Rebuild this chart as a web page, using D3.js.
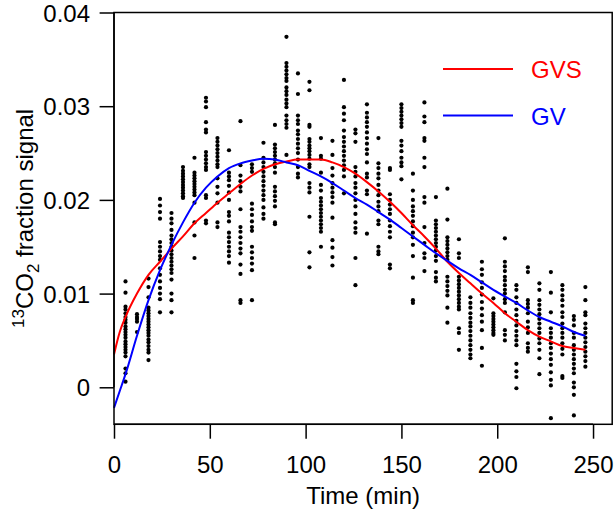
<!DOCTYPE html>
<html>
<head>
<meta charset="utf-8">
<script src="https://cdn.jsdelivr.net/npm/d3@7/dist/d3.min.js"></script>
<style>
  html, body { margin: 0; padding: 0; background: #fff; }
  svg { display: block; }
  text { font-family: "Liberation Sans", Arial, Helvetica, sans-serif; }
</style>
</head>
<body>
<svg id="chart" width="614" height="514"></svg>
<script>
// ---- data ----
const times = [6,12,18,24,30,36,42,48,54,60,66,72,78,84,90,96,102,108,114,120,126,132,138,144,150,156,162,168,174,180,186,192,198,204,210,216,222,228,234,240,246];
const signal = [
  [0.0113,0.0101,0.0086,0.0083,0.0079,0.0075,0.0072,0.0069,0.0065,0.0062,0.0059,0.0056,0.0053,0.0049,0.0046,0.0043,0.0040,0.0037,0.0033,0.0020,0.0015,0.0006],
  [0.0078,0.0075,0.0073,0.0070,0.0059],
  [0.0116,0.0107,0.0096,0.0085,0.0082,0.0079,0.0076,0.0073,0.0070,0.0067,0.0064,0.0061,0.0058,0.0055,0.0051,0.0048,0.0044,0.0040,0.0037,0.0029],
  [0.0201,0.0194,0.0187,0.0180,0.0155,0.0150,0.0145,0.0140,0.0136,0.0127,0.0120,0.0113,0.0106,0.0100,0.0094,0.0080],
  [0.0186,0.0180,0.0175,0.0168,0.0162,0.0158,0.0154,0.0150,0.0146,0.0142,0.0138,0.0134,0.0130,0.0126,0.0122,0.0115,0.0100,0.0093,0.0080],
  [0.0235,0.0231,0.0228,0.0225,0.0222,0.0219,0.0216,0.0213,0.0210,0.0207,0.0204,0.0202],
  [0.0245,0.0229,0.0226,0.0223,0.0220,0.0217,0.0214,0.0211,0.0208,0.0205,0.0197,0.0176,0.0162,0.0138],
  [0.0309,0.0305,0.0299,0.0283,0.0275,0.0272,0.0251,0.0247,0.0243,0.0239,0.0235,0.0232,0.0205,0.0202,0.0178,0.0175],
  [0.0266,0.0262,0.0258,0.0254,0.0250,0.0246,0.0242,0.0238,0.0235,0.0223,0.0214,0.0207,0.0197,0.0176,0.0171],
  [0.0253,0.0229,0.0225,0.0221,0.0215,0.0208,0.0200,0.0187,0.0183,0.0177,0.0165,0.0160,0.0155,0.0150,0.0145,0.0140,0.0133],
  [0.0284,0.0237,0.0226,0.0220,0.0214,0.0209,0.0190,0.0171,0.0166,0.0160,0.0154,0.0148,0.0143,0.0131,0.0121,0.0093,0.0090],
  [0.0238,0.0234,0.0230,0.0196,0.0190,0.0184,0.0177,0.0171,0.0167,0.0150,0.0144,0.0138,0.0132,0.0125,0.0093],
  [0.0261,0.0245,0.0240,0.0235,0.0230,0.0225,0.0220,0.0215,0.0210,0.0205,0.0200,0.0192,0.0185,0.0180],
  [0.0280,0.0259,0.0255,0.0251,0.0247,0.0243,0.0239,0.0235,0.0229,0.0214,0.0209,0.0204,0.0199,0.0193,0.0176,0.0174],
  [0.0374,0.0346,0.0342,0.0338,0.0334,0.0330,0.0327,0.0320,0.0316,0.0312,0.0307,0.0303,0.0299,0.0290,0.0285,0.0281,0.0277,0.0248],
  [0.0335,0.0313,0.0290,0.0285,0.0281,0.0274,0.0270,0.0265,0.0260,0.0255,0.0250,0.0243,0.0235,0.0228,0.0224],
  [0.0326,0.0317,0.0280,0.0278,0.0265,0.0262,0.0258,0.0255,0.0252,0.0248,0.0244,0.0238,0.0235,0.0218,0.0213,0.0208,0.0182,0.0144,0.0128],
  [0.0266,0.0247,0.0244,0.0229,0.0216,0.0210,0.0202,0.0198,0.0194,0.0190,0.0186,0.0182,0.0178,0.0174,0.0170,0.0166,0.0150],
  [0.0263,0.0248,0.0234,0.0226,0.0218,0.0213,0.0208,0.0203,0.0197,0.0181,0.0157,0.0149,0.0139,0.0130],
  [0.0328,0.0299,0.0292,0.0285,0.0274,0.0267,0.0262,0.0257,0.0252,0.0247,0.0242,0.0237,0.0232,0.0225,0.0207],
  [0.0275,0.0271,0.0262,0.0235,0.0230,0.0225,0.0218,0.0213,0.0207,0.0200,0.0193,0.0185,0.0176,0.0170,0.0165,0.0138,0.0109],
  [0.0302,0.0293,0.0288,0.0283,0.0278,0.0272,0.0266,0.0260,0.0254,0.0249,0.0240,0.0228,0.0224,0.0210,0.0206,0.0164],
  [0.0266,0.0239,0.0234,0.0228,0.0223,0.0216,0.0210,0.0205,0.0198,0.0193,0.0188,0.0178,0.0174,0.0150,0.0145,0.0142],
  [0.0234,0.0232,0.0206,0.0200,0.0195,0.0190,0.0185,0.0178,0.0172,0.0166,0.0160,0.0131,0.0127],
  [0.0302,0.0298,0.0294,0.0290,0.0286,0.0282,0.0278,0.0263,0.0258,0.0252,0.0245,0.0240,0.0236,0.0222],
  [0.0228,0.0210,0.0200,0.0193,0.0188,0.0183,0.0177,0.0172,0.0165,0.0160,0.0152,0.0140,0.0117,0.0093,0.0090],
  [0.0304,0.0289,0.0283,0.0266,0.0263,0.0245,0.0235,0.0203,0.0197,0.0171,0.0154,0.0143,0.0138,0.0124],
  [0.0203,0.0178,0.0174,0.0170,0.0166,0.0162,0.0158,0.0154,0.0150,0.0146,0.0140,0.0135,0.0123,0.0117,0.0113],
  [0.0212,0.0179,0.0160,0.0156,0.0152,0.0148,0.0144,0.0140,0.0136,0.0118,0.0113,0.0108,0.0103,0.0098,0.0085,0.0069],
  [0.0158,0.0143,0.0138,0.0118,0.0114,0.0110,0.0106,0.0102,0.0098,0.0094,0.0090,0.0086,0.0083,0.0063,0.0058,0.0040],
  [0.0096,0.0090,0.0085,0.0079,0.0074,0.0069,0.0065,0.0060,0.0055,0.0050,0.0045,0.0040,0.0035,0.0031],
  [0.0134,0.0126,0.0120,0.0112,0.0106,0.0099,0.0091,0.0084,0.0077,0.0070,0.0061,0.0042,0.0023],
  [0.0095,0.0079,0.0076,0.0073,0.0070,0.0067,0.0064,0.0061,0.0058,0.0056],
  [0.0159,0.0134,0.0129,0.0124,0.0118,0.0114,0.0109,0.0104,0.0100,0.0094,0.0090,0.0080,0.0061,0.0056,0.0050],
  [0.0109,0.0104,0.0096,0.0090,0.0083,0.0077,0.0071,0.0066,0.0060,0.0055,0.0050,0.0045,0.0025,0.0017,0.0011,-0.0001],
  [0.0128,0.0123,0.0093,0.0089,0.0085,0.0079,0.0070,0.0064,0.0058,0.0047,0.0042,0.0038],
  [0.0111,0.0104,0.0093,0.0088,0.0083,0.0078,0.0073,0.0068,0.0063,0.0058,0.0052,0.0047,0.0040,0.0031,0.0014],
  [0.0123,0.0101,0.0080,0.0063,0.0058,0.0053,0.0047,0.0042,0.0036,0.0030,0.0024,0.0016,0.0008,0.0002,-0.0033],
  [0.0109,0.0104,0.0098,0.0093,0.0087,0.0080,0.0075,0.0068,0.0063,0.0058,0.0053,0.0047,0.0041,0.0035,0.0012,0.0010],
  [0.0076,0.0072,0.0066,0.0058,0.0053,0.0045,0.0040,0.0035,0.0030,0.0025,0.0020,0.0015,0.0005,0.0000,-0.0008,-0.0030],
  [0.0107,0.0093,0.0080,0.0077,0.0068,0.0063,0.0058,0.0053,0.0048,0.0043,0.0038,0.0033,0.0028,0.0022]
];

const curveTimes = [0,3,6,12,18,24,30,36,42,48,54,60,66,72,78,84,90,96,102,108,114,120,126,132,138,144,150,156,162,168,174,180,186,192,198,204,210,216,222,228,234,240,246];
const gvsFit = [0.0035,0.0059,0.0075,0.0100,0.0120,0.0134,0.0148,0.0161,0.0175,0.0186,0.0197,0.0207,0.0217,0.0226,0.0233,0.0238,0.0241,0.0243,0.0243,0.0243,0.0240,0.0235,0.0228,0.0219,0.0209,0.0198,0.0186,0.0173,0.0161,0.0148,0.0134,0.0122,0.0111,0.0100,0.0090,0.0079,0.0070,0.0061,0.0054,0.0049,0.0044,0.0042,0.0040];
const gvFit  = [-0.0022,-0.0004,0.0014,0.0055,0.0093,0.0125,0.0152,0.0176,0.0197,0.0213,0.0225,0.0234,0.0239,0.0242,0.0244,0.0243,0.0240,0.0237,0.0231,0.0225,0.0218,0.0210,0.0202,0.0195,0.0187,0.0179,0.0170,0.0161,0.0152,0.0143,0.0135,0.0127,0.0120,0.0112,0.0104,0.0097,0.0090,0.0082,0.0075,0.0070,0.0065,0.0059,0.0055];

const xTicks = [0,50,100,150,200,250];
const yTicks = [0,0.01,0.02,0.03,0.04];
const seriesNames = ["GVS","GV"];
const seriesColors = ["#ff0000","#0000ff"];

// ---- layout ----
const svg = d3.select("#chart");
const plotL = 114, plotR = 612.2, plotT = 12.5, plotB = 424.3;
const x = d3.scaleLinear().domain([0, 260]).range([plotL, plotR]);
const y = d3.scaleLinear().domain([-0.00395, 0.04]).range([plotB, plotT]);
const fontSize = 24;

// points
const pts = [];
times.forEach((t, i) => signal[i].forEach(v => pts.push([t, v])));
svg.append("g").selectAll("circle").data(pts).join("circle")
  .attr("cx", d => x(d[0])).attr("cy", d => y(d[1])).attr("r", 2.1)
  .attr("fill", "#000");

// curves
const line = d3.line().x(d => x(d[0])).y(d => y(d[1])).curve(d3.curveMonotoneX);
[gvsFit, gvFit].forEach((arr, i) => {
  svg.append("path").datum(curveTimes.map((t, j) => [t, arr[j]]))
    .attr("d", line).attr("fill", "none")
    .attr("stroke", seriesColors[i]).attr("stroke-width", 2);
});

// box
svg.append("rect").attr("x", plotL).attr("y", plotT)
  .attr("width", plotR - plotL).attr("height", plotB - plotT)
  .attr("fill", "none").attr("stroke", "#000").attr("stroke-width", 1.5);

// x axis
const xAxis = d3.axisBottom(x).tickValues(xTicks).tickSize(14.4).tickPadding(8).tickFormat(d3.format("d"));
const gx = svg.append("g").attr("transform", `translate(0,${plotB})`).call(xAxis);
gx.select(".domain").attr("d", `M${x(0)},0H${x(250)}`).attr("stroke-width", 1.5);
gx.selectAll(".tick line").attr("stroke-width", 1.5);
gx.selectAll("text").attr("font-size", fontSize).attr("font-family", null).attr("fill", "#000").attr("dy", null).attr("y", 49);

// y axis
const yAxis = d3.axisLeft(y).tickValues(yTicks).tickSize(14.4).tickPadding(10).tickFormat(d => d === 0 ? "0" : d3.format(".2f")(d));
const gy = svg.append("g").attr("transform", `translate(${plotL},0)`).call(yAxis);
gy.select(".domain").attr("d", `M0,${y(0)}V${y(0.04)}`).attr("stroke-width", 1.5);
gy.selectAll(".tick line").attr("stroke-width", 1.5);
gy.selectAll("text").attr("font-size", fontSize).attr("font-family", null).attr("fill", "#000").attr("x", -24).attr("dy", "0.36em");

// axis titles
svg.append("text").attr("x", (plotL + plotR) / 2).attr("y", 504)
  .attr("text-anchor", "middle").attr("font-size", fontSize).text("Time (min)");

const yl = svg.append("text")
  .attr("transform", `translate(33,${(plotT + plotB) / 2}) rotate(-90)`)
  .attr("text-anchor", "middle").attr("font-size", fontSize);
yl.append("tspan").attr("font-size", 17).attr("dy", -9).text("13");
yl.append("tspan").attr("dy", 9).text("CO");
yl.append("tspan").attr("font-size", 17).attr("dy", 6).text("2");
yl.append("tspan").attr("dy", -6).text("\u00a0fraction signal");

// legend
const legY = [69, 115.5];
seriesNames.forEach((name, i) => {
  svg.append("line").attr("x1", 443).attr("x2", 513).attr("y1", legY[i]).attr("y2", legY[i])
    .attr("stroke", seriesColors[i]).attr("stroke-width", 2);
  svg.append("text").attr("x", 531).attr("y", legY[i] + 9).attr("font-size", fontSize)
    .attr("fill", seriesColors[i]).text(name);
});
</script>
</body>
</html>
